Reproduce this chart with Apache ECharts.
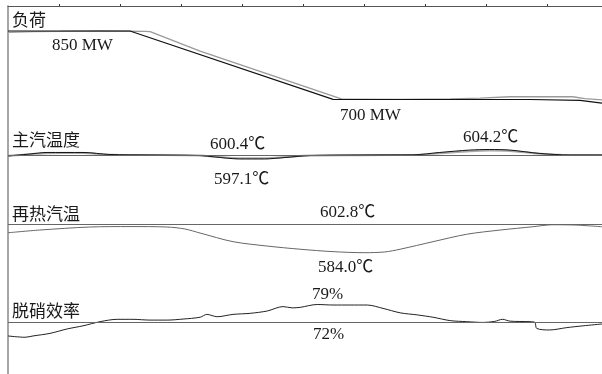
<!DOCTYPE html>
<html><head><meta charset="utf-8">
<script src="https://cdn.jsdelivr.net/npm/echarts@6/dist/echarts.min.js"></script>
<style>html,body{margin:0;padding:0;background:#fff}#c{width:602px;height:374px}</style>
</head><body><div id="c"></div>
<script>
// time in minutes
const X_MIN = 1.6, X_MAX = 99.0;
const tickTimes = [10, 20, 30, 40, 50, 60, 70, 80, 90];

// 负荷 (MW)
const loadT1 = [1.6, 21.6, 54.9, 55.2, 87.2, 95.4, 99.0];
const loadBlack = [850, 850, 700.4, 700, 700, 698, 692];
const loadT2 = [1.6, 5.7, 10.1, 16.7, 24.1, 24.9, 33.1, 56.5, 65.9, 74.1, 79.0, 83.9, 94.2, 96.2, 99.0];
const loadGray = [847, 848.5, 849, 850, 849, 848.5, 806, 700.5, 700.4, 701.5, 703, 706, 706, 702, 699];

// 主汽温度 (℃)
const msT = [1.6, 5.2, 8.0, 13.9, 18.3, 24.9, 33.1, 35.5, 39.6, 43.7, 47.0, 51.1, 59.3, 68.0, 72.4, 77.3, 80.6, 83.9, 88.8, 93.7, 99.0];
const msBlack = [599.6, 601.0, 602.1, 602.1, 600.65, 600.3, 599.9, 598.9, 597.5, 597.5, 598.5, 599.9, 600.3, 600.4, 602.1, 603.8, 604.2, 603.8, 601.4, 600.3, 600.3];
const msGray = [599.8, 600.8, 601.6, 601.7, 600.5, 600.3, 599.9, 599.2, 598.0, 598.0, 598.8, 600.0, 600.2, 600.3, 601.5, 603.0, 603.5, 603.2, 601.2, 600.3, 600.3];

// 再热汽温 (℃)
const rhT = [1.6, 6.8, 15.0, 21.6, 27.7, 30.6, 33.1, 38.5, 44.1, 49.5, 54.9, 60.1, 63.4, 65.9, 71.3, 76.8, 82.3, 87.7, 90.9, 94.6, 99.0];
const rhTemp = [597.2, 599.0, 601.0, 601.3, 601.0, 599.7, 597.0, 591.3, 588.4, 586.3, 584.7, 584.0, 584.5, 586.3, 591.3, 596.2, 599.0, 601.2, 602.5, 602.3, 601.2];

// 脱硝效率 (%)
const dnT = [1.6, 4.4, 5.7, 8.5, 11.3, 13.9, 16.7, 19.5, 22.1, 24.9, 27.7, 30.3, 33.1, 34.2, 35.9, 38.5, 41.3, 44.1, 46.7, 48.2, 49.5, 52.3, 54.9, 57.7, 60.5, 63.1, 65.9, 68.7, 71.3, 74.1, 76.8, 79.5, 81.4, 82.7, 83.9, 87.2, 88.0, 88.3, 90.4, 93.2, 95.9, 99.0];
const dnEff = [66.9, 66.4, 66.9, 67.9, 69.6, 70.8, 72.4, 73.3, 73.3, 73.0, 73.0, 73.4, 74.1, 75.2, 74.3, 75.2, 75.6, 76.5, 78.2, 77.7, 77.9, 79.0, 78.8, 78.8, 78.8, 77.5, 75.8, 75.0, 74.1, 72.8, 72.4, 72.1, 72.5, 73.3, 72.6, 72.4, 72.1, 69.8, 69.2, 70.1, 70.8, 71.5];

// reference levels
const msRef = 600.4, rhRef = 602.8, dnRef = 72;

const zip = (t, v) => t.map((x, i) => [x, v[i]]);
const SERIF = "'Liberation Serif','Noto Sans CJK SC',serif";
const CJK = "'Noto Sans CJK SC',sans-serif";

const grids = [
  {left: 8, right: 0, top: 6, height: 368},
  {left: 8, right: 0, top: 31, height: 68.5},
  {left: 8, right: 0, top: 149.5, height: 10},
  {left: 8, right: 0, top: 224.3, height: 28.4},
  {left: 8, right: 0, top: 304.5, height: 18.2}
];
const yr = [[0, 1], [700, 850], [597.1, 604.2], [584.0, 602.8], [72, 79]];

const xAxes = grids.map((g, i) => ({
  type: 'value', gridIndex: i, min: X_MIN, max: X_MAX, show: i === 0,
  position: 'top',
  axisLine: {show: true, onZero: false, lineStyle: {color: '#555', width: 1}},
  axisTick: {show: true, inside: false, length: 2, customValues: tickTimes, lineStyle: {color: '#333', width: 1}},
  axisLabel: {show: false}, splitLine: {show: false}
}));
const yAxes = grids.map((g, i) => ({
  type: 'value', gridIndex: i, min: yr[i][0], max: yr[i][1], show: i === 0,
  axisLine: {show: true, onZero: false, lineStyle: {color: '#888', width: 1.5}},
  axisTick: {show: false}, axisLabel: {show: false}, splitLine: {show: false}
}));

function line(gi, data, color, width, ref) {
  const s = {
    type: 'line', xAxisIndex: gi, yAxisIndex: gi, data, symbol: 'none', clip: false,
    smooth: gi === 1 ? false : 0.3, animation: false, silent: true,
    lineStyle: {color, width}
  };
  if (ref !== undefined) {
    s.markLine = {silent: true, symbol: 'none', animation: false, label: {show: false},
      lineStyle: {color: '#666', width: 1, type: 'solid'}, data: [{yAxis: ref}]};
  }
  return s;
}

const labels = [
  ['负荷', 12, 20, CJK], ['850 MW', 52, 46, SERIF], ['700 MW', 340, 116, SERIF],
  ['主汽温度', 12, 139.5, CJK], ['600.4℃', 210, 144.5, SERIF], ['597.1℃', 214, 180, SERIF], ['604.2℃', 463, 137.5, SERIF],
  ['再热汽温', 12, 213.5, CJK], ['602.8℃', 320, 213, SERIF], ['584.0℃', 318, 267.5, SERIF],
  ['脱硝效率', 12, 310.5, CJK], ['79%', 312, 294.5, SERIF], ['72%', 313, 335, SERIF]
];

const chart = echarts.init(document.getElementById('c'));
chart.setOption({
  animation: false,
  grid: grids, xAxis: xAxes, yAxis: yAxes,
  series: [
    line(1, zip(loadT2, loadGray), '#9a9a9a', 1.3),
    line(1, zip(loadT1, loadBlack), '#111', 1.2),
    line(2, zip(msT, msGray), '#aaa', 2, msRef),
    line(2, zip(msT, msBlack), '#111', 1),
    line(3, zip(rhT, rhTemp), '#666', 1, rhRef),
    line(4, zip(dnT, dnEff), '#222', 1, dnRef)
  ],
  graphic: labels.map(([t, x, y, f]) => ({
    type: 'text', x, y, silent: true,
    style: {text: t, font: '17px ' + f, fill: '#1a1a1a', verticalAlign: 'middle', align: 'left'}
  }))
});
</script></body></html>
